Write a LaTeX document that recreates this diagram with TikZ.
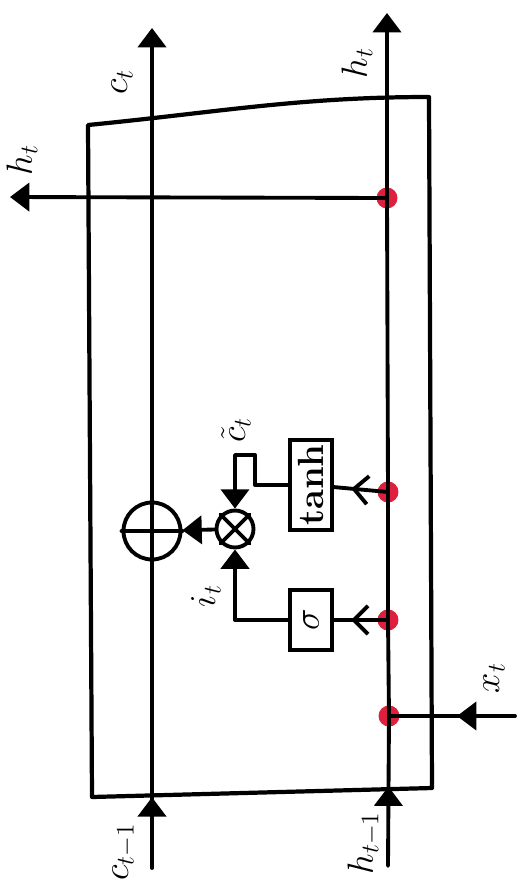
\documentclass[tikz,border=0pt]{standalone}
\usetikzlibrary{arrows.meta, positioning, decorations.markings}
\definecolor{penred}{RGB}{222,32,62}

\begin{document}
\begin{tikzpicture}[x=0.02cm, y=-0.02cm, >={Triangle[length=11pt,width=16pt]},
		pen/.style={line width=2.2pt, line cap=round, line join=round},
		dot/.style={circle, fill=penred, inner sep=0pt, minimum size=0.42cm},
		op/.style={circle, draw=black, line width=2.2pt, inner sep=0pt},
		gate/.style={rectangle, draw=black, line width=2.2pt, rotate=90, minimum height=0.84cm, inner sep=2pt, font=\huge\bfseries},
		lbl/.style={rotate=90, font=\huge},
		midtip/.style={postaction={decorate}, decoration={markings, mark=at position #1 with {\arrow{Triangle[length=11pt,width=16pt]}}}},
		midbarb/.style={postaction={decorate}, decoration={markings, mark=at position #1 with {\arrow{Straight Barb[length=8pt,width=16pt]}}}}]
		
		\useasboundingbox (0,0) rectangle (525,887);
		
		% Caixa da célula
		\coordinate (tl) at (88,125);
		\coordinate (tr) at (429,97);
		\coordinate (br) at (432,788);
		\coordinate (bl) at (92,797);
		\draw[pen, line width=2.4pt] (tl) .. controls (220,112) and (300,97) .. (tr) -- (br) -- (bl) -- cycle;
		
		% Pontos de entrada
		\node[dot] (d1) at (387,198) {};
		\node[dot] (d2) at (388,492) {};
		\node[dot] (d3) at (388,620) {};
		\node[dot] (d4) at (389,716) {};
		
		% Operadores
		\node[op, minimum size=1.14cm] (plus) at (152,531) {};
		\node[op, minimum size=0.74cm] (times) at (235,529) {};
		\draw[pen] (plus.west) -- (plus.east);
		\draw[pen] (times.north west) -- (times.south east);
		\draw[pen] (times.south west) -- (times.north east);
		
		% Portas
		\node[gate, minimum width=1.8cm] (tanhgate) at (311,485) {tanh};
		\node[gate, minimum width=1.2cm] (sigmagate) at (311,620) {$\sigma$};
		
		% Extremos
		\coordinate (cin) at (152,868);
		\coordinate (cout) at (152,28);
		\coordinate (hin) at (388,866);
		\coordinate (hout) at (387,13);
		\coordinate (hleft) at (10,197);
		\coordinate (xin) at (515,716);
		
		% Estado da célula
		\draw[pen, midtip=0.21] (cin) -- (plus.center);
		\draw[pen, ->] (plus.center) -- (cout);
		
		% Saída oculta
		\draw[pen, midtip=0.53] (hin) -- (d4.center);
		\draw[pen] (d4.center) -- (d3.center) -- (d2.center) -- (d1.center);
		\draw[pen, ->] (d1.center) -- (hout);
		\draw[pen, ->] (d1.center) -- (hleft);
		\draw[pen, midtip=0.46] (xin) -- (d4.center);
		
		% Entradas das portas
		\draw[pen, midbarb=0.68] (d2.center) -- (tanhgate);
		\draw[pen, midbarb=0.68] (d3.center) -- (sigmagate);
		
		% Saídas das portas
		\draw[pen, ->] (tanhgate.north) -- (255,485) -- (255,455) -- (235,455) -- (times.north);
		\draw[pen, ->] (sigmagate.north) -| (times.south);
		\draw[pen, ->] (times) -- (plus);
		
		% Rótulos
		\node[lbl] (lct) at (122,82) {$c_t$};
		\node[lbl] (lht) at (357,63) {$h_t$};
		\node[lbl] (lhl) at (22,160) {$h_t$};
		\node[lbl] (lcp) at (124,852) {$c_{t-1}$};
		\node[lbl] (lhp) at (364,843) {$h_{t-1}$};
		\node[lbl] (lxt) at (494,678) {$x_t$};
		\node[lbl] (lcc) at (236,430) {$\tilde{c}_t$};
		\node[lbl] (lit) at (206,596) {$i_t$};
	\end{tikzpicture}
\end{document}
